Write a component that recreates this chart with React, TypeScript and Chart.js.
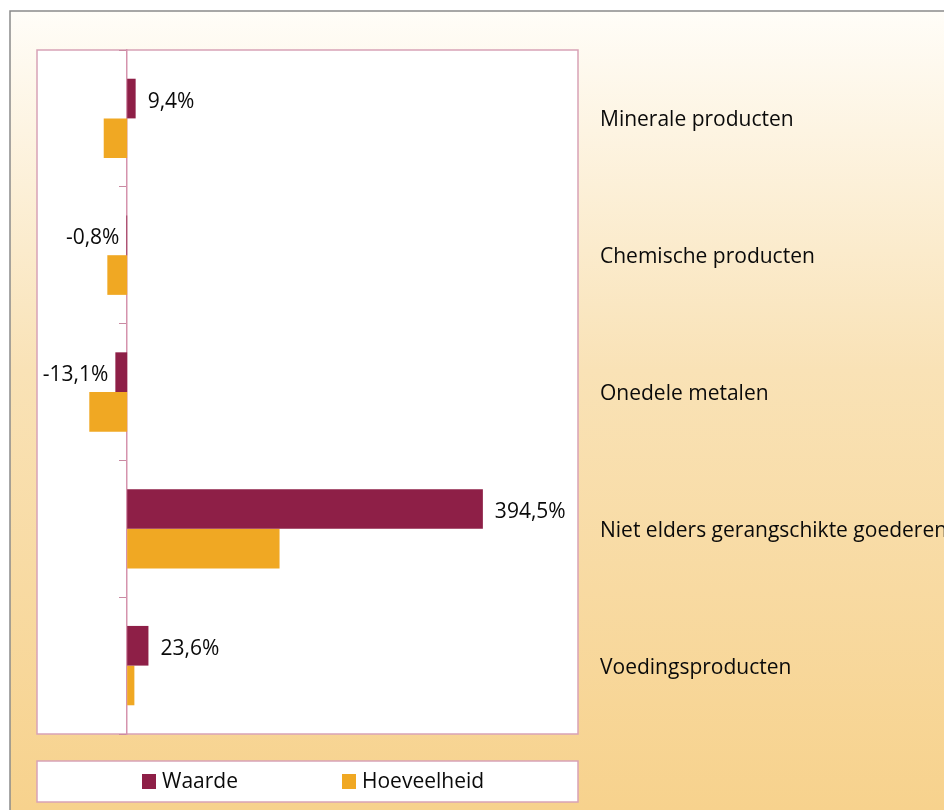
import React, { useEffect, useRef } from "react";
import { Chart, registerables } from "chart.js";

Chart.register(...registerables);

const categories = [
  "Minerale producten",
  "Chemische producten",
  "Onedele metalen",
  "Niet elders gerangschikte goederen",
  "Voedingsproducten",
];
const waarde = [9.4, -0.8, -13.1, 394.5, 23.6];
const hoeveelheid = [-26, -22, -42, 169, 8];
const seriesNames = ["Waarde", "Hoeveelheid"];
const seriesColors = ["#8E1F47", "#F0A823"];
const xMin = -100;
const xMax = 500;

const FONT = "21px 'Open Sans', sans-serif";
const PINK = "#d8a2b6";
const TEXT = "#0a0a0a";

const fmt = (v: number) => `${v.toFixed(1).replace(".", ",")}%`;

const decorPlugin = {
  id: "decor",
  beforeDraw(chart: any) {
    const { ctx, width, height, chartArea } = chart;
    ctx.save();
    ctx.fillStyle = "#ffffff";
    ctx.fillRect(0, 0, width, height);
    const g = ctx.createLinearGradient(0, 11, 0, height);
    g.addColorStop(0, "#fffdf8");
    g.addColorStop(0.45, "#f9e2b6");
    g.addColorStop(1, "#f7d28d");
    ctx.fillStyle = g;
    ctx.fillRect(10, 11, width - 10, height - 11);
    ctx.strokeStyle = "#8a8a8a";
    ctx.lineWidth = 1.5;
    ctx.beginPath();
    ctx.moveTo(10, height);
    ctx.lineTo(10, 11);
    ctx.lineTo(width, 11);
    ctx.stroke();
    // plot area
    ctx.fillStyle = "#ffffff";
    ctx.fillRect(chartArea.left, chartArea.top, chartArea.right - chartArea.left, chartArea.bottom - chartArea.top);
    ctx.strokeStyle = PINK;
    ctx.lineWidth = 1.5;
    ctx.strokeRect(chartArea.left, chartArea.top, chartArea.right - chartArea.left, chartArea.bottom - chartArea.top);
    ctx.restore();
  },
  afterDraw(chart: any) {
    const { ctx, chartArea } = chart;
    const yScale = chart.scales.y;
    ctx.save();
    ctx.font = FONT;
    ctx.fillStyle = TEXT;
    ctx.textBaseline = "middle";
    ctx.textAlign = "left";
    categories.forEach((c, i) => {
      ctx.fillText(c, 600, yScale.getPixelForValue(i) + 2);
    });
    // value labels for Waarde
    const meta = chart.getDatasetMeta(0);
    meta.data.forEach((bar: any, i: number) => {
      const v = waarde[i];
      if (v >= 0) {
        ctx.textAlign = "left";
        ctx.fillText(fmt(v), bar.x + 12, bar.y + 3);
      } else {
        ctx.textAlign = "right";
        ctx.fillText(fmt(v), bar.x - 7, bar.y + 3);
      }
    });
    // legend box
    const lx = chartArea.left;
    const lw = chartArea.right - chartArea.left;
    const ly = 761;
    const lh = 41;
    ctx.fillStyle = "#ffffff";
    ctx.fillRect(lx, ly, lw, lh);
    ctx.strokeStyle = PINK;
    ctx.lineWidth = 1.5;
    ctx.strokeRect(lx, ly, lw, lh);
    const itemX = [142, 342];
    chart.data.datasets.forEach((ds: any, i: number) => {
      ctx.fillStyle = ds.backgroundColor;
      ctx.fillRect(itemX[i], ly + 13, 14, 15);
      ctx.fillStyle = TEXT;
      ctx.textAlign = "left";
      ctx.fillText(ds.label, itemX[i] + 20, ly + lh / 2 + 1);
    });
    ctx.restore();
  },
};

export default function App() {
  const ref = useRef<HTMLCanvasElement | null>(null);
  useEffect(() => {
    if (!ref.current) return;
    const chart = new Chart(ref.current, {
      type: "bar",
      data: {
        labels: categories,
        datasets: [
          { label: seriesNames[0], data: waarde, backgroundColor: seriesColors[0] },
          { label: seriesNames[1], data: hoeveelheid, backgroundColor: seriesColors[1] },
        ],
      },
      options: {
        indexAxis: "y",
        responsive: false,
        animation: false,
        layout: { padding: { left: 37, right: 366, top: 50, bottom: 76 } },
        datasets: { bar: { categoryPercentage: 0.58, barPercentage: 1.0 } },
        plugins: { legend: { display: false }, tooltip: { enabled: false } },
        scales: {
          x: { type: "linear", min: xMin, max: xMax, display: false },
          y: {
            type: "category",
            position: { x: 0 } as any,
            ticks: { display: false },
            grid: { drawOnChartArea: false, drawTicks: true, tickLength: 7, color: "#c98aa2", offset: true },
            border: { display: true, color: "#d593ad", width: 1.5 },
          },
        },
      } as any,
      plugins: [decorPlugin],
    });
    return () => chart.destroy();
  }, []);
  return (
    <div style={{ position: "absolute", left: 0, top: 0, width: 944, height: 810 }}>
      <canvas ref={ref} width={944} height={810} style={{ display: "block" }} />
    </div>
  );
}
